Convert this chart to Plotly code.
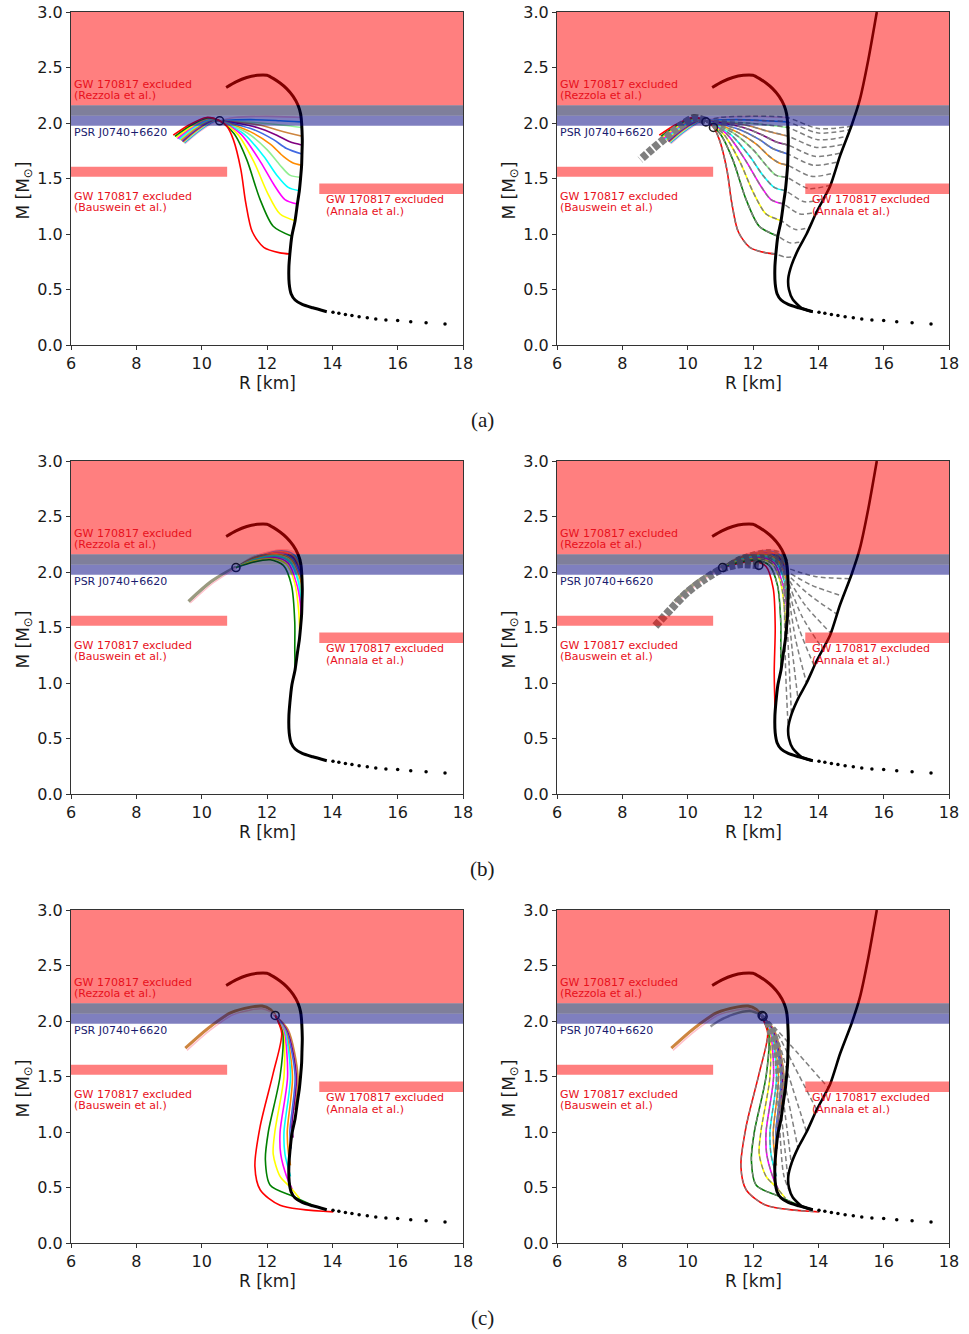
import plotly.graph_objects as go

# ---------------- axes / ticks ----------------
X_TICKS = [6, 8, 10, 12, 14, 16, 18]
Y_TICKS = [0.0, 0.5, 1.0, 1.5, 2.0, 2.5, 3.0]
Y_TICKTEXT = ["0.0", "0.5", "1.0", "1.5", "2.0", "2.5", "3.0"]
CAPTIONS = ["(a)", "(b)", "(c)"]

# ---------------- constraint regions ----------------
REZZOLA_M = [2.16, 3.0]
PSR_UPPER_M = [2.065, 2.16]
PSR_LOWER_M = [1.975, 2.065]
BAUSWEIN_R = [6.0, 10.78]
BAUSWEIN_M = [1.515, 1.605]
ANNALA_R = [13.6, 18.0]
ANNALA_M = [1.36, 1.455]

# ---------------- hadronic curves ----------------
TAIL_R = [17.45, 16.87, 16.4, 16.0, 15.64, 15.33, 15.07, 14.82, 14.6, 14.4, 14.2, 14.02]
TAIL_M = [0.19, 0.20, 0.21, 0.22, 0.225, 0.235, 0.245, 0.255, 0.265, 0.275, 0.285, 0.295]
SOFT_R = [13.83, 13.4, 13.08, 12.86, 12.74, 12.68, 12.67, 12.7, 12.76, 12.86, 12.93, 12.99, 13.03,
          13.06, 13.07, 13.08, 13.03, 12.95, 12.8, 12.6, 12.4, 12.2, 12.0, 11.7, 11.38, 11.05, 10.75]
SOFT_M = [0.30, 0.335, 0.365, 0.405, 0.46, 0.55, 0.70, 0.82, 0.98, 1.12, 1.27, 1.39, 1.51,
          1.62, 1.72, 1.85, 2.08, 2.16, 2.24, 2.31, 2.36, 2.40, 2.43, 2.43, 2.41, 2.37, 2.32]
STIFF_R = [13.83, 13.5, 13.22, 13.1, 13.08, 13.18, 13.4, 13.64, 13.95, 14.36, 14.66, 15.02, 15.27, 15.53, 15.79]
STIFF_M = [0.30, 0.33, 0.41, 0.50, 0.60, 0.72, 0.87, 1.00, 1.20, 1.43, 1.70, 1.98, 2.21, 2.57, 3.0]

# ---------------- panel (a) ----------------
A_CIRCLES_L_R = [10.55]
A_CIRCLES_L_M = [2.02]
A_CIRCLES_R_R = [10.56, 10.79]
A_CIRCLES_R_M = [2.01, 1.96]
A_COLORS = ['red', 'green', 'yellow', 'magenta', 'cyan', 'lightgreen', 'darkorange',
            'royalblue', 'purple', 'peru', 'palegreen', 'dodgerblue', 'pink']
A_R = [
    [9.13, 9.6, 10.15, 10.55, 10.77, 10.97, 11.2, 11.35, 11.55, 11.9, 12.4, 12.7],
    [9.18, 9.65, 10.18, 10.55, 11.0, 11.38, 11.79, 12.19, 12.76],
    [9.22, 9.7, 10.2, 10.55, 11.1, 11.6, 12.0, 12.4, 12.86],
    [9.26, 9.72, 10.22, 10.55, 11.2, 11.8, 12.2, 12.55, 12.93],
    [9.3, 9.75, 10.24, 10.55, 11.3, 11.9, 12.3, 12.65, 12.99],
    [9.33, 9.77, 10.26, 10.55, 11.4, 12.0, 12.4, 12.7, 13.03],
    [9.36, 9.8, 10.28, 10.55, 11.5, 12.1, 12.5, 12.8, 13.06],
    [9.39, 9.82, 10.3, 10.55, 11.6, 12.2, 12.6, 13.07],
    [9.41, 9.84, 10.32, 10.55, 11.7, 12.3, 12.7, 13.08],
    [9.43, 9.86, 10.34, 10.55, 11.8, 12.4, 13.08],
    [9.45, 9.88, 10.36, 10.55, 11.8, 12.5, 13.06],
    [9.47, 9.9, 10.38, 10.55, 11.5, 12.4, 13.04],
    [9.49, 9.92, 10.4, 10.55, 11.0, 12.0, 13.02],
]
A_M = [
    [1.89, 1.98, 2.05, 2.02, 1.97, 1.85, 1.58, 1.28, 1.02, 0.88, 0.83, 0.82],
    [1.88, 1.975, 2.045, 2.02, 1.9, 1.67, 1.31, 1.07, 0.98],
    [1.87, 1.97, 2.04, 2.02, 1.9, 1.65, 1.38, 1.18, 1.12],
    [1.86, 1.965, 2.04, 2.02, 1.9, 1.65, 1.45, 1.31, 1.27],
    [1.855, 1.96, 2.035, 2.02, 1.9, 1.7, 1.53, 1.42, 1.39],
    [1.85, 1.955, 2.03, 2.02, 1.91, 1.76, 1.62, 1.53, 1.51],
    [1.845, 1.95, 2.03, 2.02, 1.92, 1.81, 1.7, 1.64, 1.62],
    [1.84, 1.945, 2.025, 2.02, 1.94, 1.85, 1.77, 1.72],
    [1.835, 1.94, 2.025, 2.02, 1.96, 1.89, 1.83, 1.80],
    [1.83, 1.935, 2.02, 2.02, 1.98, 1.93, 1.88],
    [1.825, 1.93, 2.02, 2.02, 2.0, 1.98, 1.96],
    [1.82, 1.925, 2.015, 2.02, 2.03, 2.02, 2.01],
    [1.815, 1.92, 2.01, 2.02, 2.05, 2.06, 2.05],
]
# dashed continuations (right panel) towards the stiff hadronic curve
A_EXT_R = [[13.0, 13.29], [13.13, 13.51], [13.3, 13.73], [13.44, 13.95], [13.58, 14.16],
           [13.7, 14.37], [13.78, 14.49], [13.84, 14.6], [13.89, 14.7], [13.94, 14.8],
           [13.98, 14.89], [14.0, 14.97], [14.0, 15.01]]
A_EXT_M = [[0.79, 0.80], [0.92, 0.93], [1.04, 1.06], [1.18, 1.2], [1.29, 1.32],
           [1.41, 1.44], [1.52, 1.55], [1.62, 1.65], [1.70, 1.73], [1.78, 1.81],
           [1.85, 1.88], [1.91, 1.94], [1.95, 1.97]]
A_GRAY_R = [10.55, 10.2, 9.8, 9.3, 8.9, 8.55]
A_GRAY_M = [2.02, 2.045, 1.98, 1.86, 1.76, 1.67]

# ---------------- panel (b) ----------------
B_CIRCLES_L_R = [11.05]
B_CIRCLES_L_M = [2.04]
B_CIRCLES_R_R = [11.07, 12.18]
B_CIRCLES_R_M = [2.04, 2.06]
B_TWIN_R = [9.6, 10.3, 11.05]
B_TWIN_M = [1.735, 1.915, 2.045]
B_TWIN2_R = [9.65, 10.35, 11.05]
B_TWIN2_M = [1.72, 1.90, 2.035]
B_COLORS = ['green', 'yellow', 'magenta', 'cyan', 'lightgreen', 'darkorange', 'royalblue',
            'purple', 'peru', 'dodgerblue', 'pink', 'lightgray']
B_R = [
    [11.05, 11.6, 12.1, 12.5, 12.75, 12.85, 12.85, 12.86],
    [11.05, 11.6, 12.2, 12.6, 12.85, 12.97, 13.0],
    [11.05, 11.6, 12.25, 12.65, 12.9, 13.02, 13.04],
    [11.05, 11.6, 12.3, 12.7, 12.95, 13.05],
    [11.05, 11.6, 12.3, 12.72, 12.97, 13.07],
    [11.05, 11.6, 12.35, 12.75, 13.0, 13.08],
    [11.05, 11.6, 12.4, 12.78, 13.02, 13.08],
    [11.05, 11.6, 12.4, 12.8, 13.04, 13.08],
    [11.05, 11.6, 12.45, 12.82, 13.05],
    [11.05, 11.6, 12.45, 12.85, 13.06],
    [11.05, 11.6, 12.5, 12.88, 13.06],
    [11.05, 11.6, 12.5, 12.9, 13.06],
]
B_M = [
    [2.04, 2.09, 2.11, 2.06, 1.88, 1.55, 1.3, 1.12],
    [2.04, 2.1, 2.12, 2.07, 1.9, 1.65, 1.46],
    [2.04, 2.1, 2.13, 2.08, 1.9, 1.72, 1.6],
    [2.04, 2.11, 2.14, 2.09, 1.92, 1.7],
    [2.04, 2.11, 2.15, 2.1, 1.93, 1.78],
    [2.04, 2.12, 2.16, 2.11, 1.95, 1.85],
    [2.04, 2.12, 2.17, 2.12, 1.97, 1.9],
    [2.04, 2.12, 2.17, 2.13, 1.98, 1.95],
    [2.04, 2.13, 2.18, 2.14, 2.0],
    [2.04, 2.13, 2.19, 2.15, 2.03],
    [2.04, 2.14, 2.2, 2.16, 2.06],
    [2.04, 2.14, 2.2, 2.17, 2.1],
]
B_RED_R = [11.07, 11.6, 12.0, 12.4, 12.62, 12.68, 12.65, 12.68]
B_RED_M = [2.04, 2.08, 2.1, 2.05, 1.85, 1.5, 1.1, 0.73]
B_GRAY_R = [12.18, 11.6, 11.07, 10.5, 10.0, 9.5, 9.0]
B_GRAY_M = [2.06, 2.07, 2.03, 1.93, 1.82, 1.67, 1.51]
B_DASH_R = [[12.9, 13.9, 14.97], [12.95, 13.8, 14.78], [12.98, 13.7, 14.57], [13.0, 13.6, 14.38],
            [13.02, 13.5, 14.15], [13.02, 13.4, 13.88], [13.02, 13.3, 13.64], [13.0, 13.2, 13.38],
            [12.98, 13.1, 13.18], [12.95, 13.0, 13.08]]
B_DASH_M = [[2.05, 1.96, 1.94], [2.02, 1.88, 1.78], [2.0, 1.8, 1.62], [1.98, 1.7, 1.45],
            [1.96, 1.6, 1.3], [1.95, 1.5, 1.15], [1.94, 1.4, 1.0], [1.93, 1.3, 0.85],
            [1.92, 1.2, 0.7], [1.9, 1.1, 0.58]]

# ---------------- panel (c) ----------------
C_CIRCLES_L_R = [12.25]
C_CIRCLES_L_M = [2.05]
C_CIRCLES_R_R = [12.28, 12.31]
C_CIRCLES_R_M = [2.05, 2.04]
C_TWIN_R = [9.5, 10.2, 10.9, 11.5, 11.85, 12.1, 12.25]
C_TWIN_M = [1.755, 1.935, 2.075, 2.125, 2.135, 2.105, 2.05]
C_TWIN2_R = [9.55, 10.25, 10.95, 11.5, 11.85, 12.1, 12.25]
C_TWIN2_M = [1.735, 1.915, 2.055, 2.1, 2.11, 2.085, 2.05]
C_COLORS = ['red', 'green', 'yellow', 'magenta', 'cyan', 'darkorange', 'royalblue', 'purple', 'peru']
C_R = [
    [12.25, 12.45, 12.19, 11.79, 11.63, 11.79, 12.4, 14.03],
    [12.25, 12.48, 12.4, 12.04, 11.95, 12.1, 12.8, 13.4],
    [12.25, 12.5, 12.52, 12.24, 12.19, 12.4, 12.72, 13.0],
    [12.25, 12.52, 12.63, 12.4, 12.42, 12.6, 12.78],
    [12.25, 12.55, 12.72, 12.52, 12.55, 12.72],
    [12.25, 12.57, 12.78, 12.62, 12.66, 12.72],
    [12.25, 12.6, 12.86, 12.7, 12.74],
    [12.25, 12.62, 12.9, 12.76, 12.8],
    [12.25, 12.65, 12.95, 12.85],
]
C_M = [
    [2.05, 1.89, 1.53, 1.05, 0.69, 0.48, 0.34, 0.28],
    [2.05, 1.89, 1.5, 1.0, 0.75, 0.52, 0.42, 0.34],
    [2.05, 1.89, 1.5, 1.0, 0.8, 0.6, 0.5, 0.4],
    [2.05, 1.9, 1.5, 1.0, 0.8, 0.6, 0.48],
    [2.05, 1.9, 1.5, 1.0, 0.8, 0.6],
    [2.05, 1.9, 1.5, 1.0, 0.8, 0.7],
    [2.05, 1.9, 1.5, 1.0, 0.85],
    [2.05, 1.91, 1.5, 1.05, 0.95],
    [2.05, 1.92, 1.5, 1.2],
]
C_GRAY_R = [12.3, 11.9, 11.4, 10.95, 10.7]
C_GRAY_M = [2.05, 2.09, 2.06, 2.0, 1.95]
C_DASH_R = [[12.3, 12.7, 13.4, 14.3], [12.3, 12.68, 13.25, 13.95], [12.3, 12.66, 13.1, 13.64],
            [12.3, 12.64, 13.0, 13.38], [12.3, 12.62, 12.92, 13.18], [12.3, 12.6, 12.85, 13.08],
            [12.3, 12.58, 12.8, 12.95, 13.2]]
C_DASH_M = [[2.05, 1.93, 1.7, 1.4], [2.05, 1.92, 1.6, 1.2], [2.05, 1.91, 1.5, 1.0],
            [2.05, 1.9, 1.4, 0.85], [2.05, 1.89, 1.3, 0.7], [2.05, 1.88, 1.2, 0.55],
            [2.05, 1.88, 1.1, 0.6, 0.42]]

# ======================================================================
FONT = "DejaVu Sans"
W, H = 969, 1334
X_DOMS = [[71 / W, 463 / W], [557 / W, 949 / W]]
ROW_PX = [(12, 345), (461, 794), (910, 1243)]
Y_DOMS = [[1 - b / H, 1 - t / H] for t, b in ROW_PX]

XA = ['x', 'x2', 'x3', 'x4', 'x5', 'x6']
YA = ['y', 'y2', 'y3', 'y4', 'y5', 'y6']

fig = go.Figure()


def line(p, R, M, color, width, dash='solid', smoothing=0.8):
    fig.add_trace(go.Scatter(x=R, y=M, mode='lines',
                             line=dict(color=color, width=width, dash=dash, shape='spline', smoothing=smoothing),
                             xaxis=XA[p], yaxis=YA[p], hoverinfo='skip', showlegend=False))


def circles(p, R, M):
    fig.add_trace(go.Scatter(x=R, y=M, mode='markers',
                             marker=dict(symbol='circle-open', size=8, color='#222', line=dict(width=1.6, color='#222')),
                             xaxis=XA[p], yaxis=YA[p], hoverinfo='skip', showlegend=False))


def hadronic(p, stiff):
    fig.add_trace(go.Scatter(x=TAIL_R, y=TAIL_M, mode='markers', marker=dict(color='black', size=3.5),
                             xaxis=XA[p], yaxis=YA[p], hoverinfo='skip', showlegend=False))
    line(p, SOFT_R, SOFT_M, 'black', 3.0, smoothing=0.6)
    if stiff:
        line(p, STIFF_R, STIFF_M, 'black', 2.6, smoothing=0.6)


DASH = '5px,3px'
GRAY = '#7f7f7f'

# ---- panel a ----
for p in (0, 1):
    for k in range(len(A_COLORS) - 1, -1, -1):
        line(p, A_R[k], A_M[k], A_COLORS[k], 1.6)
    if p == 1:
        for k in range(len(A_COLORS)):
            i0 = A_R[k].index(10.55)
            line(p, A_R[k][i0:] + A_EXT_R[k], A_M[k][i0:] + A_EXT_M[k], GRAY, 1.5, DASH)
        line(p, A_GRAY_R, A_GRAY_M, GRAY, 8, '6px,2px')
    hadronic(p, p == 1)
circles(0, A_CIRCLES_L_R, A_CIRCLES_L_M)
circles(1, A_CIRCLES_R_R, A_CIRCLES_R_M)

# ---- panel b ----
for p in (2, 3):
    line(p, B_TWIN_R, B_TWIN_M, '#9a9a80', 3.5)
    line(p, B_TWIN2_R, B_TWIN2_M, 'pink', 1.3)
    if p == 3:
        line(p, B_RED_R, B_RED_M, 'red', 1.6)
    for k in range(len(B_COLORS) - 1, -1, -1):
        line(p, B_R[k], B_M[k], B_COLORS[k], 1.6)
    if p == 3:
        for k in range(len(B_COLORS)):
            line(p, B_R[k], B_M[k], GRAY, 1.2, DASH)
        for k in range(len(B_DASH_R)):
            line(p, B_DASH_R[k], B_DASH_M[k], GRAY, 1.5, DASH)
        line(p, B_GRAY_R, B_GRAY_M, GRAY, 8, '6px,2px')
    hadronic(p, p == 3)
circles(2, B_CIRCLES_L_R, B_CIRCLES_L_M)
circles(3, B_CIRCLES_R_R, B_CIRCLES_R_M)

# ---- panel c ----
for p in (4, 5):
    line(p, C_TWIN_R, C_TWIN_M, 'peru', 3.0)
    line(p, C_TWIN2_R, C_TWIN2_M, 'pink', 1.5)
    for k in range(len(C_COLORS) - 1, -1, -1):
        line(p, C_R[k], C_M[k], C_COLORS[k], 1.6)
    if p == 5:
        for k in range(len(C_COLORS)):
            line(p, C_R[k], C_M[k], GRAY, 1.2, DASH)
        for k in range(len(C_DASH_R)):
            line(p, C_DASH_R[k], C_DASH_M[k], GRAY, 1.5, DASH)
        line(p, C_GRAY_R, C_GRAY_M, '#999999', 2.5)
    hadronic(p, p == 5)
circles(4, C_CIRCLES_L_R, C_CIRCLES_L_M)
circles(5, C_CIRCLES_R_R, C_CIRCLES_R_M)

# ---------------- shapes & annotations ----------------
shapes = []
annotations = []
for p in range(6):
    xr, yr = XA[p], YA[p]

    def rect(x0, x1, y0, y1, color):
        shapes.append(dict(type='rect', xref=xr, yref=yr, x0=x0, x1=x1, y0=y0, y1=y1,
                           fillcolor=color, opacity=0.5, line=dict(width=0), layer='above'))

    rect(6, 18, REZZOLA_M[0], REZZOLA_M[1], 'red')
    rect(6, 18, PSR_UPPER_M[0], PSR_UPPER_M[1], '#000037')
    rect(6, 18, PSR_LOWER_M[0], PSR_LOWER_M[1], 'navy')
    rect(BAUSWEIN_R[0], BAUSWEIN_R[1], BAUSWEIN_M[0], BAUSWEIN_M[1], 'red')
    rect(ANNALA_R[0], ANNALA_R[1], ANNALA_M[0], ANNALA_M[1], 'red')

    def txt(x, y, s, color):
        annotations.append(dict(xref=xr, yref=yr, x=x, y=y, text=s, showarrow=False,
                                xanchor='left', yanchor='middle', borderpad=0,
                                font=dict(family=FONT, size=11, color=color)))

    txt(6.05, 2.345, 'GW 170817 excluded', '#e8101c')
    txt(6.05, 2.245, '(Rezzola et al.)', '#e8101c')
    txt(6.05, 1.915, 'PSR J0740+6620', '#1a1a6e')
    txt(6.05, 1.34, 'GW 170817 excluded', '#e8101c')
    txt(6.05, 1.24, '(Bauswein et al.)', '#e8101c')
    txt(13.77, 1.31, 'GW 170817 excluded', '#e8101c')
    txt(13.77, 1.20, '(Annala et al.)', '#e8101c')

for r in range(3):
    t, b = ROW_PX[r]
    for c in range(2):
        xl = 71 if c == 0 else 557
        annotations.append(dict(xref='paper', yref='paper', x=(xl + 196) / W, y=1 - (b + 38) / H,
                                text='R [km]', showarrow=False, xanchor='center', yanchor='middle',
                                font=dict(family=FONT, size=17, color='#1a1a1a')))
        annotations.append(dict(xref='paper', yref='paper', x=(xl - 47) / W, y=1 - ((t + b) / 2 + 12) / H,
                                text='M [M<sub>⊙</sub>]', textangle=-90, showarrow=False,
                                xanchor='center', yanchor='middle',
                                font=dict(family=FONT, size=17, color='#1a1a1a')))
    annotations.append(dict(xref='paper', yref='paper', x=482 / W, y=1 - (b + 75) / H,
                            text=CAPTIONS[r], showarrow=False, xanchor='center', yanchor='middle',
                            font=dict(family='Liberation Serif', size=21, color='#1a1a1a')))

layout = dict(width=W, height=H, margin=dict(l=0, r=0, t=0, b=0, autoexpand=False),
              paper_bgcolor='white', plot_bgcolor='white', showlegend=False,
              shapes=shapes, annotations=annotations)
for p in range(6):
    r, c = divmod(p, 2)
    xk = 'xaxis' if p == 0 else f'xaxis{p + 1}'
    yk = 'yaxis' if p == 0 else f'yaxis{p + 1}'
    layout[xk] = dict(domain=X_DOMS[c], anchor=YA[p], range=[6, 18], tickvals=X_TICKS, automargin=False,
                      ticks='outside', ticklen=4, tickcolor='#333', showline=True, mirror=True,
                      linecolor='#333', linewidth=1, showgrid=False, zeroline=False,
                      tickfont=dict(family=FONT, size=16, color='#1a1a1a'))
    layout[yk] = dict(domain=Y_DOMS[r], anchor=XA[p], range=[0, 3], tickvals=Y_TICKS, ticktext=Y_TICKTEXT,
                      automargin=False,
                      ticks='outside', ticklen=4, tickcolor='#333', showline=True, mirror=True,
                      linecolor='#333', linewidth=1, showgrid=False, zeroline=False,
                      tickfont=dict(family=FONT, size=16, color='#1a1a1a'))
fig.update_layout(**layout)
fig.write_html("out.html", config={'displayModeBar': False},
               post_script="document.body.style.margin='0';document.body.style.overflow='hidden';")
